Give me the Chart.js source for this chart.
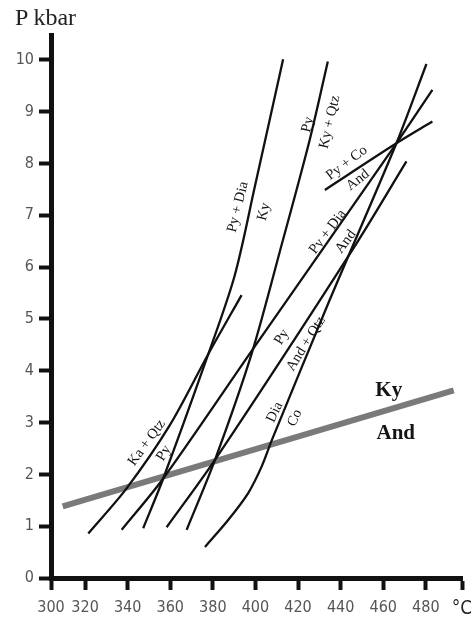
<!DOCTYPE html>
<html>
<head>
<meta charset="utf-8">
<script src="https://cdn.jsdelivr.net/npm/chart.js@4"></script>
<style>
  html, body { margin: 0; padding: 0; background: #fff; }
  #wrap { position: relative; width: 471px; height: 619px; }
  #title { position: absolute; left: 15px; top: 4px; font: 24px "Liberation Serif", serif; color: #222; }
</style>
</head>
<body>
<div id="wrap">
  <div id="title">P kbar</div>
  <canvas id="chart" width="471" height="619"></canvas>
</div>
<script>
// axis ticks
const xTickValues = [304, 320, 340, 360, 380, 400, 420, 440, 460, 480, 497];
const xTickLabels = ['300', '320', '340', '360', '380', '400', '420', '440', '460', '480', '°C'];
const yTickValues = [0, 1, 2, 3, 4, 5, 6, 7, 8, 9, 10];

// reaction curves, temperature (°C) and pressure (kbar)
const kyAndT = [309.5, 493.1];
const kyAndP = [1.38, 3.62];
const kaQtzPyT = [321.5, 339.5, 359.8, 377.7, 393.5];
const kaQtzPyP = [0.86, 1.73, 2.95, 4.31, 5.46];
const pyDiaKyT = [347.3, 356.7, 375.5, 390.0, 399.7, 413.0];
const pyDiaKyP = [0.96, 1.92, 4.05, 5.80, 7.55, 10.01];
const pyKyQtzT = [367.7, 381.0, 398.3, 412.5, 425.5, 434.0];
const pyKyQtzP = [0.93, 2.28, 4.34, 6.46, 8.46, 9.97];
const pyDiaAndT = [337.2, 356.7, 399.7, 466.2, 483.1];
const pyDiaAndP = [0.93, 1.92, 4.47, 8.39, 9.42];
const pyAndQtzT = [358.3, 381.0, 447.5, 470.9];
const pyAndQtzP = [0.98, 2.28, 6.46, 8.04];
const diaCoT = [376.3, 387.2, 396.6, 402.9, 407.7, 434.9, 466.2, 480.3];
const diaCoP = [0.60, 1.12, 1.64, 2.15, 2.66, 5.37, 8.39, 9.92];
const pyCoAndT = [432.6, 466.2, 483.1];
const pyCoAndP = [7.49, 8.39, 8.81];

// text along the curves: [text, T, P, angle]
const curveLabels = [
  ['Ka + Qtz', 349.0, 2.61, -54],
  ['Py', 357.0, 2.41, -58],
  ['Py + Dia', 391.8, 7.16, -76],
  ['Ky', 404.0, 7.07, -76],
  ['Py', 424.6, 8.75, -77],
  ['Ky + Qtz', 434.9, 8.80, -77],
  ['Py + Co', 442.9, 8.01, -37],
  ['And', 448.1, 7.68, -38],
  ['Py + Dia', 434.0, 6.68, -53],
  ['And', 442.4, 6.49, -53],
  ['Py', 412.4, 4.65, -58],
  ['And + Qtz', 423.7, 4.52, -58],
  ['Dia', 409.1, 3.20, -65],
  ['Co', 418.5, 3.09, -65]
];
const fieldLabels = [
  ['Ky', 462.6, 3.61],
  ['And', 465.9, 2.78]
];

function pts(t, p) {
  return t.map((v, i) => ({ x: v, y: p[i] }));
}

function curve(t, p) {
  return {
    data: pts(t, p),
    showLine: true,
    borderColor: '#111',
    borderWidth: 2.3,
    pointRadius: 0,
    tension: 0.3,
    order: 0
  };
}

const textPlugin = {
  id: 'curveText',
  afterDatasetsDraw(chart) {
    const c = chart.ctx;
    const xs = chart.scales.x, ys = chart.scales.y;
    c.save();
    c.fillStyle = '#151515';
    c.textAlign = 'center';
    c.textBaseline = 'middle';
    c.font = '14.5px "Liberation Serif", serif';
    curveLabels.forEach(([txt, t, p, a]) => {
      c.save();
      c.translate(xs.getPixelForValue(t), ys.getPixelForValue(p));
      c.rotate(a * Math.PI / 180);
      c.fillText(txt, 0, 0);
      c.restore();
    });
    c.font = 'bold 21px "Liberation Serif", serif';
    fieldLabels.forEach(([txt, t, p]) => {
      c.fillText(txt, xs.getPixelForValue(t), ys.getPixelForValue(p));
    });
    c.restore();
  }
};

const tickFont = { family: '"Liberation Sans Narrow", "DejaVu Sans Condensed", "Liberation Sans", sans-serif', size: 16 };

const chart = new Chart(document.getElementById('chart'), {
  type: 'scatter',
  data: {
    datasets: [
      curve(kaQtzPyT, kaQtzPyP),
      curve(pyDiaKyT, pyDiaKyP),
      curve(pyKyQtzT, pyKyQtzP),
      curve(pyDiaAndT, pyDiaAndP),
      curve(pyAndQtzT, pyAndQtzP),
      curve(diaCoT, diaCoP),
      curve(pyCoAndT, pyCoAndP),
      {
        data: pts(kyAndT, kyAndP),
        showLine: true,
        borderColor: '#7a7a7a',
        borderWidth: 6,
        pointRadius: 0,
        order: 1
      }
    ]
  },
  options: {
    responsive: false,
    animation: false,
    devicePixelRatio: 1,
    layout: { padding: { left: 0, top: 35, right: 9, bottom: 0 } },
    plugins: { legend: { display: false }, tooltip: { enabled: false } },
    scales: {
      x: {
        type: 'linear',
        min: 304,
        max: 497,
        afterBuildTicks: s => { s.ticks = xTickValues.map(v => ({ value: v })); },
        afterFit: s => { s.height = 41; s.paddingLeft = 0; s.paddingRight = 0; },
        ticks: {
          autoSkip: false,
          maxRotation: 0,
          padding: 8,
          color: ctx => ctx.index === xTickLabels.length - 1 ? '#222' : '#555',
          font: ctx => ctx.index === xTickLabels.length - 1 ? { ...tickFont, size: 19 } : tickFont,
          callback: (v, i) => xTickLabels[i]
        },
        grid: { drawOnChartArea: false, tickLength: 12, tickWidth: 4, tickColor: '#111' },
        border: { width: 5, color: '#111' }
      },
      y: {
        min: 0,
        max: 10.48,
        afterBuildTicks: s => { s.ticks = yTickValues.map(v => ({ value: v })); },
        afterFit: s => { s.width = 51; },
        ticks: { padding: 5, color: '#555', font: tickFont },
        grid: { drawOnChartArea: false, tickLength: 12, tickWidth: 4, tickColor: '#111' },
        border: { width: 5, color: '#111' }
      }
    }
  },
  plugins: [textPlugin]
});
</script>
</body>
</html>
